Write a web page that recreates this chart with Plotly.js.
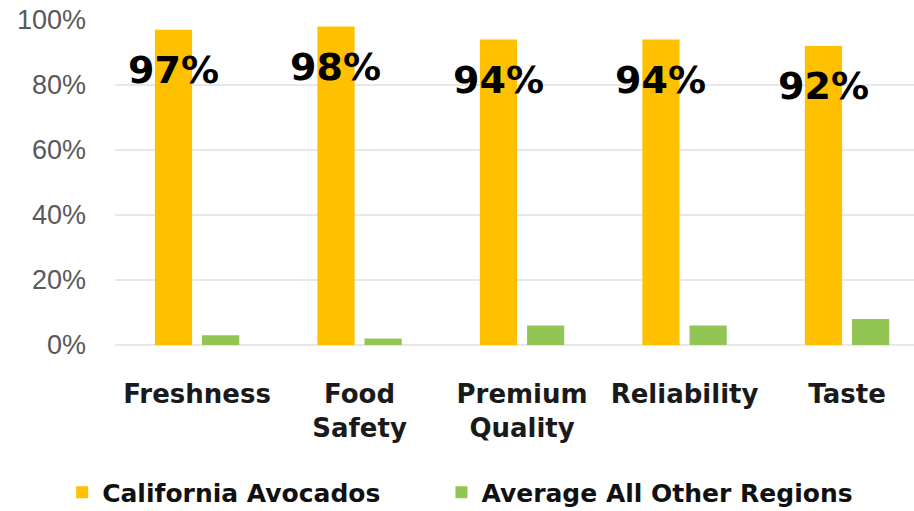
<!DOCTYPE html>
<html>
<head>
<meta charset="utf-8">
<script src="https://cdn.plot.ly/plotly-3.0.1.min.js"></script>
<style>html,body{margin:0;padding:0;background:#fff;}#chart{width:914px;height:511px;}</style>
</head>
<body>
<div id="chart"></div>
<script>
const categories = ["Freshness", "Food Safety", "Premium Quality", "Reliability", "Taste"];
const categoryLabels = ["Freshness", "Food<br>Safety", "Premium<br>Quality", "Reliability", "Taste"];
const californiaValues = [97, 98, 94, 94, 92];
const otherRegionsValues = [3, 2, 6, 6, 8];
const seriesNames = ["California Avocados", "Average All Other Regions"];
const yTickValues = [0, 20, 40, 60, 80, 100];
const yTickLabels = ["0%", "20%", "40%", "60%", "80%", "100%"];

const boldFont = "DejaVu Sans, Arial Black, sans-serif";

const traces = [
  {
    type: "bar", name: "<b>" + seriesNames[0] + "</b>", x: categories, y: californiaValues,
    marker: {color: "#FFC000"}, hoverinfo: "skip", legend: "legend"
  },
  {
    type: "bar", name: "<b>" + seriesNames[1] + "</b>", x: categories, y: otherRegionsValues,
    marker: {color: "#92C553"}, hoverinfo: "skip", legend: "legend2"
  }
];

const annotations = categories.map((c, i) => ({
  x: c, y: californiaValues[i], xref: "x", yref: "y",
  text: "<b>" + californiaValues[i] + "%</b>",
  showarrow: false, xshift: -24, yshift: -40, yanchor: "middle", xanchor: "center",
  font: {family: boldFont, size: 38, color: "#000000"}
}));

const legendFont = {family: boldFont, size: 25, color: "#111111"};

const layout = {
  width: 914, height: 511,
  margin: {l: 115, r: 0, t: 20, b: 166},
  paper_bgcolor: "#ffffff", plot_bgcolor: "#ffffff",
  barmode: "group", bargap: 0.42, bargroupgap: 0.21,
  showlegend: true,
  legend: {
    orientation: "h", xref: "container", yref: "container",
    x: 0.068, y: 0.036, xanchor: "left", yanchor: "middle",
    font: legendFont
  },
  legend2: {
    orientation: "h", xref: "container", yref: "container",
    x: 0.483, y: 0.036, xanchor: "left", yanchor: "middle",
    font: legendFont
  },
  xaxis: {
    type: "category", range: [-0.505, 4.412],
    tickmode: "array", tickvals: categories, ticktext: categoryLabels.map(t => "<b>" + t + "</b>"),
    tickfont: {family: boldFont, size: 26, color: "#1a1a1a"},
    showgrid: false, showline: false, ticks: "", zeroline: false,
    ticklabelstandoff: 31
  },
  yaxis: {
    range: [0, 100], tickmode: "array", tickvals: yTickValues, ticktext: yTickLabels,
    tickfont: {family: "Liberation Sans, Arial, sans-serif", size: 27, color: "#595959"},
    showgrid: true, gridcolor: "#e8e8e8", gridwidth: 1.5, zeroline: true, zerolinecolor: "#e8e8e8", zerolinewidth: 1.5,
    showline: false, ticks: "", ticklabelstandoff: 28
  },
  annotations: annotations
};

Plotly.newPlot("chart", traces, layout, {displayModeBar: false, staticPlot: true});
</script>
</body>
</html>
